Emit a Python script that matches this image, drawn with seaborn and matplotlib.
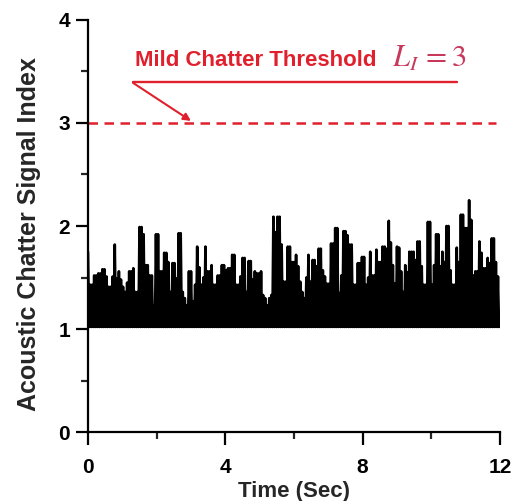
import numpy as np
import pandas as pd
import seaborn as sns
import matplotlib
matplotlib.use("Agg")
import matplotlib.pyplot as plt
from matplotlib.ticker import MultipleLocator

# upper envelope of the acoustic chatter signal index, one value every 0.06 s
signal_peaks = [
    1.75, 1.43, 1.43, 1.52, 1.52, 1.54, 1.54, 1.58, 1.58, 1.51,
    1.41, 1.41, 1.51, 1.82, 1.49, 1.56, 1.48, 1.41, 1.36, 1.45,
    1.56, 1.56, 1.59, 1.36, 1.36, 1.99, 1.99, 1.92, 1.62, 1.62,
    1.52, 1.52, 1.23, 1.92, 1.92, 1.56, 1.56, 1.74, 1.74, 1.65,
    1.36, 1.64, 1.64, 1.49, 1.93, 1.93, 1.36, 1.30, 1.23, 1.56,
    1.56, 1.27, 1.43, 1.80, 1.60, 1.43, 1.50, 1.80, 1.56, 1.56,
    1.62, 1.43, 1.43, 1.52, 1.52, 1.62, 1.62, 1.57, 1.59, 1.59,
    1.72, 1.72, 1.43, 1.43, 1.51, 1.69, 1.69, 1.36, 1.66, 1.66,
    1.48, 1.56, 1.54, 1.54, 1.56, 1.33, 1.30, 1.23, 1.30, 1.33,
    2.09, 1.94, 2.09, 2.09, 1.82, 1.46, 1.46, 1.80, 1.80, 1.65,
    1.65, 1.72, 1.61, 1.46, 1.36, 1.30, 1.50, 1.72, 1.46, 1.67,
    1.67, 1.61, 1.78, 1.78, 1.57, 1.51, 1.44, 1.44, 1.83, 1.83,
    1.98, 1.98, 1.35, 1.52, 1.95, 1.95, 1.91, 1.82, 1.82, 1.43,
    1.43, 1.64, 1.64, 1.70, 1.70, 1.43, 1.50, 1.75, 1.52, 1.52,
    1.77, 1.65, 1.65, 1.80, 1.80, 1.78, 2.05, 1.84, 1.62, 1.44,
    1.80, 1.79, 1.56, 1.36, 1.62, 1.55, 1.75, 1.75, 1.75, 1.67,
    1.85, 1.85, 1.61, 1.43, 1.43, 2.04, 2.04, 1.43, 1.62, 1.92,
    1.92, 1.61, 1.75, 1.65, 2.00, 2.00, 1.57, 1.43, 1.43, 1.79,
    1.65, 2.11, 2.11, 1.98, 1.98, 2.25, 2.06, 1.52, 1.56, 1.56,
    1.85, 1.74, 1.59, 1.59, 1.69, 1.64, 1.88, 1.88, 1.65, 1.51,
]
signal_floor = 1.02          # bottom of the dense band
sample_interval = 0.06       # seconds between envelope samples
threshold = 3                # mild chatter threshold L_I

x_ticks = [0, 4, 8, 12]
y_ticks = [0, 1, 2, 3, 4]

red = "#e0202c"
label_red = "#c8385a"

# dense signal: each envelope sample followed by a drop to the floor
n = len(signal_peaks)
t_peak = np.arange(n) * sample_interval
t_all = np.empty(2 * n)
y_all = np.empty(2 * n)
t_all[0::2] = t_peak
t_all[1::2] = t_peak + sample_interval / 2
y_all[0::2] = signal_peaks
y_all[1::2] = signal_floor
df = pd.DataFrame({"Time": t_all, "Index": y_all})

sns.set_style("ticks")
plt.rcParams["font.family"] = ["Liberation Sans", "DejaVu Sans"]
plt.rcParams["mathtext.fontset"] = "stix"

fig = plt.figure(figsize=(5.14, 5.01), dpi=100)
ax = fig.add_axes([0.1712, 0.1377, 0.8016, 0.8224])

sns.lineplot(data=df, x="Time", y="Index", color="black", lw=1.9,
             estimator=None, sort=False, ax=ax)

# threshold line and annotation
ax.axhline(threshold, xmin=0, xmax=0.99, color=red, lw=1.8,
           linestyle=(0, (3.8, 2.6)))
ax.plot([1.31, 10.75], [3.40, 3.40], color=red, lw=1.7)
ax.annotate("", xy=(3.0, 3.02), xytext=(1.31, 3.39),
            arrowprops=dict(arrowstyle="-|>", color=red, lw=1.5,
                            mutation_scale=11, shrinkA=0, shrinkB=0))
ax.text(1.37, 3.55, "Mild Chatter Threshold", color=red, fontsize=16,
        fontweight="bold", ha="left", va="baseline")
ax.text(8.85, 3.55, r"$L_I\,=3$", color=label_red, fontsize=22,
        ha="left", va="baseline")

ax.set_xlim(0, 12)
ax.set_ylim(0, 4)
ax.set_xticks(x_ticks)
ax.set_yticks(y_ticks)
ax.xaxis.set_minor_locator(MultipleLocator(2))
ax.yaxis.set_minor_locator(MultipleLocator(0.5))
ax.tick_params(which="major", direction="out", length=9, width=1.6,
               labelsize=15, colors="black")
ax.tick_params(which="minor", direction="out", length=5, width=1.6)
ax.tick_params(axis="x", which="major", pad=10)
ax.tick_params(axis="y", which="major", pad=4)
for lab in ax.get_xticklabels() + ax.get_yticklabels():
    lab.set_fontweight("bold")

sns.despine(ax=ax)
for side in ["left", "bottom"]:
    ax.spines[side].set_linewidth(1.6)
    ax.spines[side].set_color("black")

ax.set_xlabel("Time (Sec)", fontsize=16, fontweight="bold")
ax.set_ylabel("Acoustic Chatter Signal Index", fontsize=18, fontweight="bold")
ax.xaxis.set_label_coords(0.5, -0.118)
ax.yaxis.set_label_coords(-0.115, 0.48)

fig.savefig("out.png", dpi=100, facecolor="white")
